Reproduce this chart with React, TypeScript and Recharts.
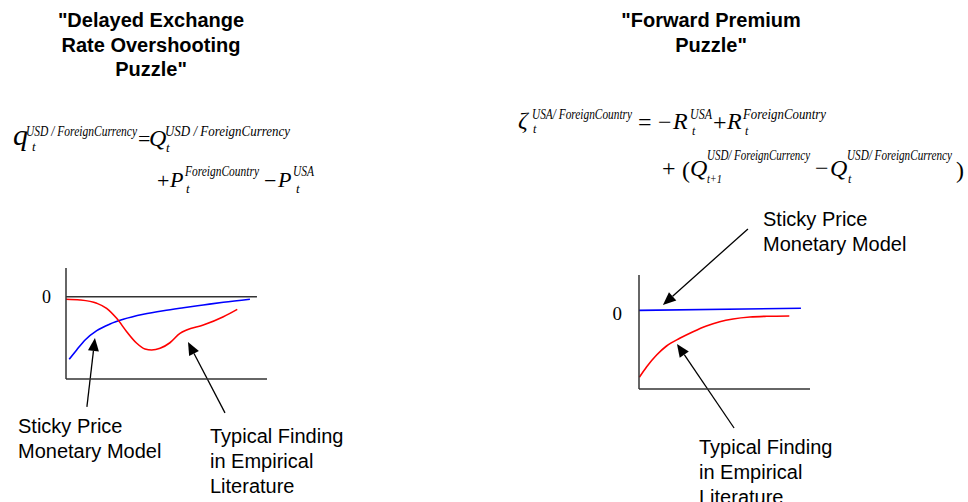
import React from "react";
import { LineChart, Line, XAxis, YAxis, ReferenceLine } from "recharts";

// Left panel: delayed overshooting
const stickyLeft = [
  { x: 1.6, y: -7.6 }, { x: 5.3, y: -6.47 }, { x: 9.5, y: -5.25 }, { x: 15.3, y: -4.12 },
  { x: 21.9, y: -3.31 }, { x: 28.5, y: -2.74 }, { x: 38.5, y: -2.13 }, { x: 48.4, y: -1.69 },
  { x: 58.4, y: -1.33 }, { x: 68.3, y: -1.0 }, { x: 78.3, y: -0.67 }, { x: 91.5, y: -0.3 },
];
const empiricalLeft = [
  { x: 0, y: -0.3 }, { x: 7, y: -0.39 }, { x: 15.3, y: -0.79 }, { x: 20.2, y: -1.4 },
  { x: 25.2, y: -2.62 }, { x: 30.2, y: -4.24 }, { x: 35.2, y: -5.65 }, { x: 39.3, y: -6.35 },
  { x: 42.6, y: -6.47 }, { x: 46.8, y: -6.27 }, { x: 51.7, y: -5.59 }, { x: 56.7, y: -4.45 },
  { x: 60, y: -4.05 }, { x: 68.3, y: -3.44 }, { x: 78.3, y: -2.43 }, { x: 85.2, y: -1.53 },
];
const zeroLineLeft = [{ x: 0, y: 0 }, { x: 95, y: 0 }];
const arrowsLeft = [
  [{ x: 10.4, y: -13.39 }, { x: 14.4, y: -5.01 }],
  [{ x: 79.1, y: -14.12 }, { x: 60.7, y: -5.5 }],
];

// Right panel: forward premium
const stickyRight = [{ x: 0, y: 0 }, { x: 94.7, y: 0.27 }];
const empiricalRight = [
  { x: 0.2, y: -8.51 }, { x: 4.5, y: -7.16 }, { x: 10.3, y: -5.67 }, { x: 16.1, y: -4.53 },
  { x: 23.8, y: -3.55 }, { x: 31.6, y: -2.71 }, { x: 39.4, y: -1.98 }, { x: 47.2, y: -1.44 },
  { x: 55, y: -1.09 }, { x: 64.9, y: -0.84 }, { x: 74.7, y: -0.75 }, { x: 87.9, y: -0.71 },
];
const arrowsRight = [
  [{ x: 63.7, y: 10.36 }, { x: 14.0, y: 0.69 }],
  [{ x: 55.6, y: -14.96 }, { x: 22.2, y: -4.27 }],
];

const zeroTick = [0];

const sans = "'Liberation Sans', Arial, sans-serif";
const serif = "'Liberation Serif', 'Times New Roman', serif";
const axisStyle = { stroke: "#333", strokeWidth: 1.5 };

// arrow drawn from first segment point to the second (tip)
const Arrow = (props: any) => {
  const { x1, y1, x2, y2 } = props;
  const dx = x2 - x1;
  const dy = y2 - y1;
  const len = Math.sqrt(dx * dx + dy * dy) || 1;
  const ux = dx / len;
  const uy = dy / len;
  const bx = x2 - ux * 13;
  const by = y2 - uy * 13;
  const nx = -uy * 5.5;
  const ny = ux * 5.5;
  return (
    <g>
      <line x1={x1} y1={y1} x2={bx} y2={by} stroke="#000" strokeWidth={1.3} />
      <polygon points={`${x2},${y2} ${bx + nx},${by + ny} ${bx - nx},${by - ny}`} fill="#000" />
    </g>
  );
};

const Eq = ({ x, y, s, it = true, len, children }: any) => (
  <text
    x={x}
    y={y}
    fontSize={s}
    fontStyle={it ? "italic" : "normal"}
    textLength={len}
    lengthAdjust={len ? "spacingAndGlyphs" : undefined}
  >
    {children}
  </text>
);

const Label = ({ left, top, lines, bold = false, center = false, lh = 25 }: any) => (
  <div
    style={{
      position: "absolute",
      left: center ? left - 150 : left,
      top,
      width: center ? 300 : "auto",
      textAlign: center ? "center" : "left",
      fontFamily: sans,
      fontSize: 20,
      fontWeight: bold ? 700 : 400,
      lineHeight: `${lh}px`,
      whiteSpace: "nowrap",
      color: "#000",
    }}
  >
    {lines.map((l: string, i: number) => (
      <div key={i}>{l}</div>
    ))}
  </div>
);

const App = () => {
  return (
    <div style={{ position: "absolute", left: 0, top: 0, width: 968, height: 502, background: "#fff" }}>
      <Label left={151} top={8} lh={24.5} bold center lines={['"Delayed Exchange', "Rate Overshooting", 'Puzzle"']} />
      <Label left={711} top={8} lh={24.5} bold center lines={['"Forward Premium', 'Puzzle"']} />

      <svg
        width={968}
        height={502}
        style={{ position: "absolute", left: 0, top: 0, fontFamily: serif }}
        fill="#000"
      >
        {/* left equation */}
        <Eq x={13} y={145} s={30}>q</Eq>
        <Eq x={26} y={136} s={14} len={111}>USD / ForeignCurrency</Eq>
        <Eq x={32} y={151} s={13}>t</Eq>
        <Eq x={138} y={146} s={22} it={false}>=</Eq>
        <Eq x={149} y={146} s={24}>Q</Eq>
        <Eq x={165} y={136} s={14} len={125}>USD / ForeignCurrency</Eq>
        <Eq x={166} y={152} s={13}>t</Eq>
        <Eq x={157} y={188} s={22} it={false}>+</Eq>
        <Eq x={170} y={187} s={22}>P</Eq>
        <Eq x={185} y={176} s={14} len={74}>ForeignCountry</Eq>
        <Eq x={186} y={193} s={13}>t</Eq>
        <Eq x={264} y={188} s={22} it={false}>−</Eq>
        <Eq x={278} y={187} s={22}>P</Eq>
        <Eq x={293} y={176} s={14} len={21}>USA</Eq>
        <Eq x={296} y={193} s={13}>t</Eq>

        {/* right equation */}
        <Eq x={518} y={128} s={24}>ζ</Eq>
        <Eq x={532} y={119} s={14} len={100}>USA/ ForeignCountry</Eq>
        <Eq x={533} y={133} s={12}>t</Eq>
        <Eq x={638} y={130} s={24} it={false}>=</Eq>
        <Eq x={658} y={130} s={24} it={false}>−</Eq>
        <Eq x={673} y={129} s={24}>R</Eq>
        <Eq x={690} y={119} s={14} len={22}>USA</Eq>
        <Eq x={692} y={135} s={12}>t</Eq>
        <Eq x={713} y={130} s={24} it={false}>+</Eq>
        <Eq x={727} y={129} s={24}>R</Eq>
        <Eq x={743} y={119} s={14} len={83}>ForeignCountry</Eq>
        <Eq x={745} y={135} s={12}>t</Eq>
        <Eq x={662} y={176} s={24} it={false}>+</Eq>
        <Eq x={682} y={178} s={24} it={false}>(</Eq>
        <Eq x={690} y={176} s={24}>Q</Eq>
        <Eq x={707} y={160} s={14} len={103}>USD/ ForeignCurrency</Eq>
        <Eq x={707} y={183} s={12} len={15}>t+1</Eq>
        <Eq x={815} y={176} s={24} it={false}>−</Eq>
        <Eq x={830} y={176} s={24}>Q</Eq>
        <Eq x={847} y={160} s={14} len={105}>USD/ ForeignCurrency</Eq>
        <Eq x={848} y={183} s={12}>t</Eq>
        <Eq x={956} y={178} s={24} it={false}>)</Eq>
      </svg>

      <div style={{ position: "absolute", left: 0, top: 190 }}>
        <LineChart width={340} height={250} margin={{ top: 78, right: 73, bottom: 51, left: 36 }}>
          <XAxis type="number" dataKey="x" domain={[0, 100]} height={10} tick={false} tickLine={false} axisLine={axisStyle} />
          <YAxis
            type="number"
            domain={[-10, 3.5]}
            width={30}
            ticks={zeroTick}
            tickLine={false}
            tickSize={0}
            tickMargin={15}
            tick={{ fontFamily: serif, fontSize: 18, fill: "#000" }}
            axisLine={axisStyle}
          />
          <ReferenceLine segment={zeroLineLeft} stroke="#333" strokeWidth={1.5} ifOverflow="visible" />
          <Line data={stickyLeft} dataKey="y" type="monotone" stroke="#0000ff" strokeWidth={1.6} dot={false} isAnimationActive={false} />
          <Line data={empiricalLeft} dataKey="y" type="monotone" stroke="#ff0000" strokeWidth={1.6} dot={false} isAnimationActive={false} />
          {arrowsLeft.map((seg, i) => (
            <ReferenceLine key={i} segment={seg} ifOverflow="visible" shape={Arrow} />
          ))}
        </LineChart>
      </div>

      <div style={{ position: "absolute", left: 560, top: 200 }}>
        <LineChart width={300} height={240} margin={{ top: 75, right: 50, bottom: 41, left: 49 }}>
          <XAxis type="number" dataKey="x" domain={[0, 100]} height={10} tick={false} tickLine={false} axisLine={axisStyle} />
          <YAxis
            type="number"
            domain={[-10, 4.5]}
            width={30}
            ticks={zeroTick}
            tickLine={false}
            tickSize={0}
            tickMargin={17}
            tick={{ fontFamily: serif, fontSize: 19, fill: "#000", dy: 3 }}
            axisLine={axisStyle}
          />
          <Line data={stickyRight} dataKey="y" type="linear" stroke="#0000ff" strokeWidth={1.6} dot={false} isAnimationActive={false} />
          <Line data={empiricalRight} dataKey="y" type="monotone" stroke="#ff0000" strokeWidth={1.6} dot={false} isAnimationActive={false} />
          {arrowsRight.map((seg, i) => (
            <ReferenceLine key={i} segment={seg} ifOverflow="visible" shape={Arrow} />
          ))}
        </LineChart>
      </div>

      <Label left={18} top={414} lines={["Sticky Price", "Monetary Model"]} />
      <Label left={210} top={424} lines={["Typical Finding", "in Empirical", "Literature"]} />
      <Label left={763} top={207} lines={["Sticky Price", "Monetary Model"]} />
      <Label left={699} top={435} lines={["Typical Finding", "in Empirical", "Literature"]} />
    </div>
  );
};

export default App;
